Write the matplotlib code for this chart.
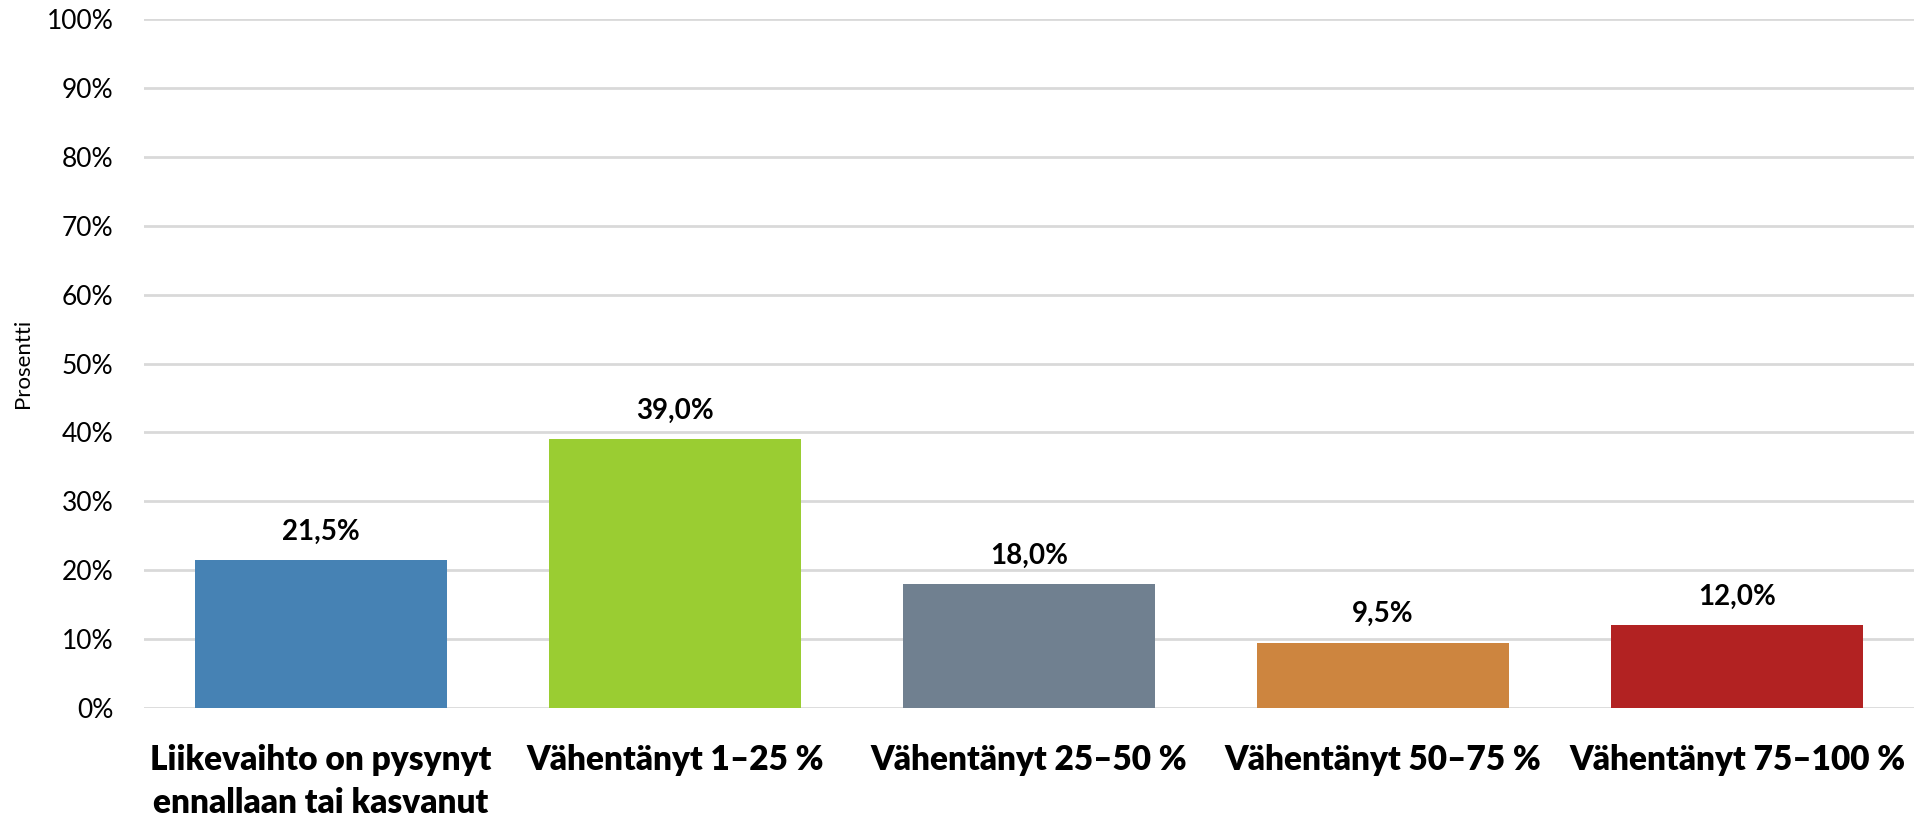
import matplotlib
matplotlib.use("Agg")
import matplotlib.pyplot as plt
import numpy as np

plt.rcParams['font.family'] = ['Lato', 'DejaVu Sans']

categories = ["Liikevaihto on pysynyt\nennallaan tai kasvanut", "Vähentänyt 1–25 %",
              "Vähentänyt 25–50 %", "Vähentänyt 50–75 %", "Vähentänyt 75–100 %"]
values = [21.5, 39.0, 18.0, 9.5, 12.0]
colors = ["#4682B4", "#9ACD32", "#708090", "#CD853F", "#B22222"]
yticks = [0, 10, 20, 30, 40, 50, 60, 70, 80, 90, 100]

fig = plt.figure(figsize=(19.18, 8.17), dpi=100)
ax = fig.add_axes([0.0751, 0.1334, 0.9229, 0.8433])

x = np.arange(len(categories))
bars = ax.bar(x, values, width=0.71, color=colors, zorder=3)

for b, v in zip(bars, values):
    ax.annotate(f"{v:.1f}%".replace(".", ","), (b.get_x() + b.get_width() / 2, v),
                xytext=(0, 11), textcoords="offset points", ha="center", va="bottom",
                fontsize=20, fontweight="bold")

ax.set_xlim(-0.5, len(categories) - 0.5)
ax.set_ylim(0, 100)
ax.set_yticks(yticks)
ax.set_yticklabels([f"{t}%" for t in yticks], fontsize=19)
ax.set_xticks(x)
ax.set_xticklabels(categories, fontsize=24, fontweight="heavy", linespacing=1.4, va="top")
ax.tick_params(axis="both", length=0)
ax.tick_params(axis="x", pad=26)
ax.tick_params(axis="y", pad=22)
ax.grid(axis="y", color="#d9d9d9", linewidth=2, zorder=0)
for s in ax.spines.values():
    s.set_visible(False)
ax.set_ylabel("Prosentti", fontsize=16, labelpad=10)

fig.savefig("out.png", dpi=100)
